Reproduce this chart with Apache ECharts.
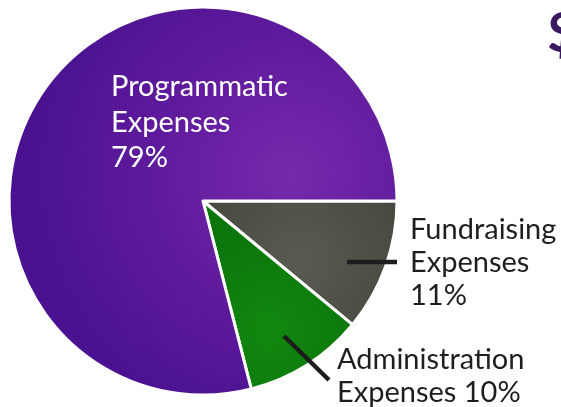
<!DOCTYPE html>
<html>
<head>
<meta charset="utf-8">
<script src="https://cdn.jsdelivr.net/npm/echarts@6/dist/echarts.min.js"></script>
<style>
html,body{margin:0;padding:0;background:#fff;}
#chart{width:561px;height:407px;}
</style>
</head>
<body>
<div id="chart"></div>
<script>
var categories = ['Fundraising\nExpenses\n11%', 'Administration\nExpenses 10%', 'Programmatic\nExpenses\n79%'];
var values = [11, 10, 79];
var sideText = '$';

var chart = echarts.init(document.getElementById('chart'));

var colors = [
  {type:'radial', x:300, y:260, r:120, global:true, colorStops:[{offset:0,color:'#5a5a50'},{offset:1,color:'#474740'}]},
  {type:'radial', x:270, y:330, r:100, global:true, colorStops:[{offset:0,color:'#11880f'},{offset:1,color:'#0b760b'}]},
  {type:'radial', x:290, y:175, r:260, global:true, colorStops:[{offset:0,color:'#7629ab'},{offset:0.55,color:'#5e1a9c'},{offset:1,color:'#4a1290'}]}
];

var labelPos = [
  {x:410, y:213},
  {x:337, y:343},
  {x:111, y:69}
];

var leaderLines = [
  [[347,262],[397,262]],
  [[284,336],[329,380]]
];

var data = values.map(function(v, i){
  var isInside = i === 2;
  return {
    name: categories[i],
    value: v,
    itemStyle: {color: colors[i]},
    label: {
      position: isInside ? 'inside' : 'outside',
      color: isInside ? '#ffffff' : '#1e1e1e',
      fontSize: 29,
      lineHeight: isInside ? 35.5 : 33
    },
    labelLine: {show: false}
  };
});

chart.setOption({
  animation: false,
  title: {
    text: sideText,
    left: 542, top: 1,
    textStyle: {fontFamily: 'Lato', fontWeight: 'bold', fontSize: 56, color: '#3a1860'}
  },
  graphic: leaderLines.map(function(l){
    return {
      type: 'line', silent: true, z: 10,
      shape: {x1: l[0][0], y1: l[0][1], x2: l[1][0], y2: l[1][1]},
      style: {stroke: '#1c1c1c', lineWidth: 4.5}
    };
  }),
  series: [{
    type: 'pie',
    center: [203, 201],
    radius: 194,
    startAngle: 0,
    clockwise: true,
    silent: true,
    avoidLabelOverlap: false,
    itemStyle: {borderColor: '#ffffff', borderWidth: 3},
    label: {
      show: true,
      formatter: '{b}',
      fontFamily: 'Lato',
      align: 'left',
      overflow: 'none'
    },
    labelLayout: function(p){
      var lp = labelPos[p.dataIndex];
      return {x: lp.x, y: lp.y, align: 'left', verticalAlign: 'top'};
    },
    data: data
  }]
});
</script>
</body>
</html>
